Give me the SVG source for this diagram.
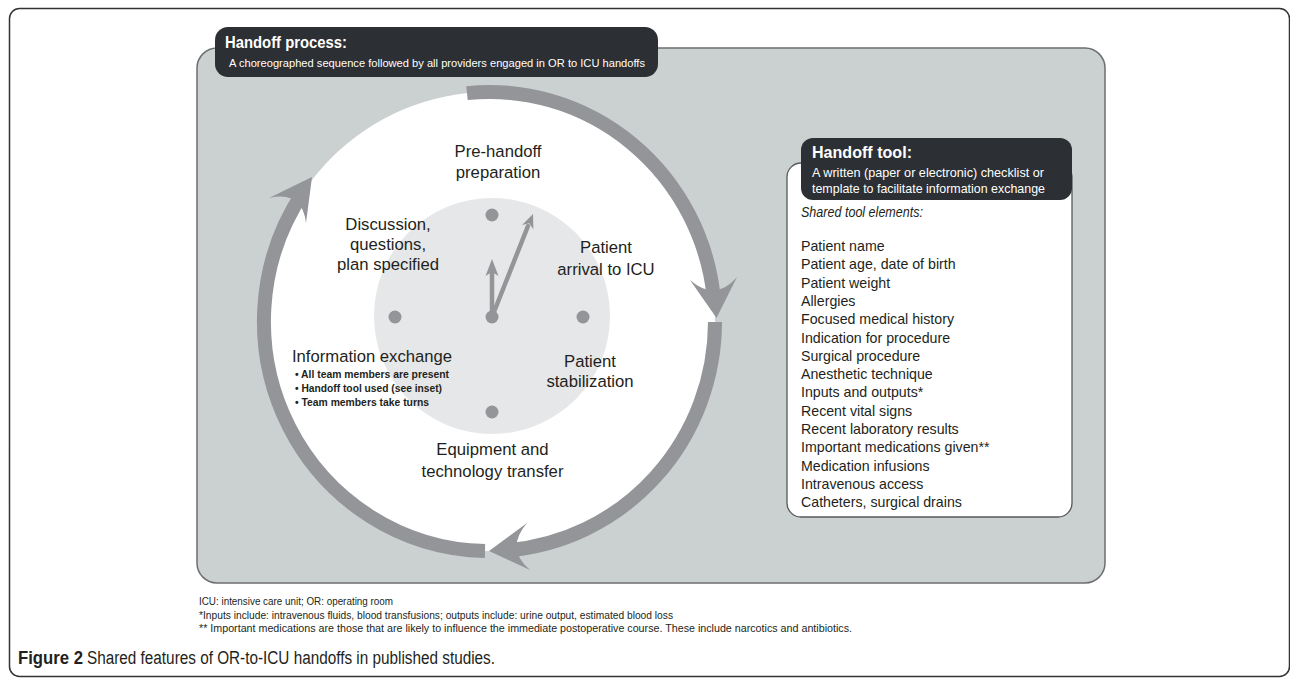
<svg xmlns="http://www.w3.org/2000/svg" width="1290" height="679" viewBox="0 0 1290 679">
<style>
.t{font-family:"Liberation Sans",Arial,sans-serif;fill:#231f20}
.w{font-family:"Liberation Sans",Arial,sans-serif;fill:#ffffff}
.lbl{font-size:16.7px;text-anchor:middle}
.li{font-size:14.2px}
.bul{font-size:10.8px;font-weight:bold}
.fn{font-size:10px}
.ring{fill:none;stroke:#939598;stroke-width:14;stroke-linecap:butt}
.head{fill:#939598}
.dot{fill:#939598}
.hand{stroke:#939598;stroke-width:4.5;stroke-linecap:round;fill:none}
</style>
<rect x="0" y="0" width="1290" height="679" fill="#ffffff"/>
<rect x="9.5" y="8.5" width="1280" height="668" rx="10" fill="none" stroke="#333333" stroke-width="1.5"/>

<g id="process-panel">
<rect x="197" y="48" width="908" height="535" rx="20" fill="#cbd0d0" stroke="#6d6e70" stroke-width="1.5"/>
<rect x="215" y="27" width="443" height="50" rx="13" fill="#2c2f33"/>
<text class="w" x="225" y="48" font-size="16px" font-weight="bold" textLength="122" lengthAdjust="spacingAndGlyphs">Handoff process:</text>
<text class="w" x="229" y="67" font-size="11.3px" textLength="416" lengthAdjust="spacingAndGlyphs">A choreographed sequence followed by all providers engaged in OR to ICU handoffs</text>
</g>

<g id="cycle-disk">
<ellipse cx="489.5" cy="321.5" rx="225.5" ry="229.5" fill="#ffffff"/>
<circle cx="492" cy="316" r="118" fill="#e6e7e8"/>
</g>

<g id="connectors">
<path class="ring" d="M467 93.1 A225.5 229.5 0 0 1 713.7 297"/>
<path class="head" d="M716.5 318 L737 277 Q715.6 302.2 690 280 Z"/>
<path class="ring" d="M715 322 A225.5 229.5 0 0 1 508 550.2"/>
<path class="head" d="M489 551 L530 570 Q504.8 549.2 527 523 Z"/>
<path class="ring" d="M485 551 A225.5 229.5 0 0 1 303.3 192"/>
<path class="head" d="M312 177 L269 198 Q302.2 190.4 306 223 Z"/>
</g>

<g id="clock">
<circle class="dot" cx="492" cy="215" r="6.5"/>
<circle class="dot" cx="395" cy="317" r="6.5"/>
<circle class="dot" cx="583" cy="317" r="6.5"/>
<circle class="dot" cx="492" cy="412" r="6.5"/>
<circle class="dot" cx="492" cy="317" r="6.5"/>
<line class="hand" x1="492" y1="317" x2="492" y2="272"/>
<path class="head" d="M492 259 L498.5 276 L492 272 L485.5 276 Z"/>
<line class="hand" x1="492" y1="317" x2="528" y2="226"/>
<path class="head" d="M533 214 L533.4 229.5 L529.3 223.3 L522 225 Z"/>
</g>

<g id="node-prehandoff">
<text class="t lbl" x="498" y="157">Pre-handoff</text>
<text class="t lbl" x="498" y="178">preparation</text>
</g>
<g id="node-arrival">
<text class="t lbl" x="606" y="253">Patient</text>
<text class="t lbl" x="606" y="275">arrival to ICU</text>
</g>
<g id="node-stabilization">
<text class="t lbl" x="590" y="367">Patient</text>
<text class="t lbl" x="590" y="387">stabilization</text>
</g>
<g id="node-equipment">
<text class="t lbl" x="492.5" y="455">Equipment and</text>
<text class="t lbl" x="492.5" y="477">technology transfer</text>
</g>
<g id="node-information">
<text class="t" x="292" y="362" font-size="16.7px" textLength="160" lengthAdjust="spacingAndGlyphs">Information exchange</text>
<text class="t bul" x="295" y="378" textLength="154" lengthAdjust="spacingAndGlyphs">• All team members are present</text>
<text class="t bul" x="295" y="392" textLength="147" lengthAdjust="spacingAndGlyphs">• Handoff tool used (see inset)</text>
<text class="t bul" x="295" y="406" textLength="134" lengthAdjust="spacingAndGlyphs">• Team members take turns</text>
</g>
<g id="node-discussion">
<text class="t lbl" x="388" y="230">Discussion,</text>
<text class="t lbl" x="388" y="250">questions,</text>
<text class="t lbl" x="388" y="270">plan specified</text>
</g>

<g id="handoff-tool">
<rect x="787" y="163" width="285" height="354" rx="14" fill="#ffffff" stroke="#58595b" stroke-width="1.3"/>
<rect x="801" y="138" width="271" height="62" rx="12" fill="#2c2f33"/>
<text class="w" x="812" y="158" font-size="16.5px" font-weight="bold" textLength="100" lengthAdjust="spacingAndGlyphs">Handoff tool:</text>
<text class="w" x="812" y="177" font-size="12.6px" textLength="232" lengthAdjust="spacingAndGlyphs">A written (paper or electronic) checklist or</text>
<text class="w" x="812" y="193" font-size="12.6px" textLength="233" lengthAdjust="spacingAndGlyphs">template to facilitate information exchange</text>
<text class="t" x="801" y="217" font-size="14px" font-style="italic" textLength="122" lengthAdjust="spacingAndGlyphs">Shared tool elements:</text>
<text class="t li" x="801" y="251">Patient name</text>
<text class="t li" x="801" y="269.3">Patient age, date of birth</text>
<text class="t li" x="801" y="287.6">Patient weight</text>
<text class="t li" x="801" y="305.9">Allergies</text>
<text class="t li" x="801" y="324.2">Focused medical history</text>
<text class="t li" x="801" y="342.5">Indication for procedure</text>
<text class="t li" x="801" y="360.8">Surgical procedure</text>
<text class="t li" x="801" y="379.1">Anesthetic technique</text>
<text class="t li" x="801" y="397.4">Inputs and outputs*</text>
<text class="t li" x="801" y="415.7">Recent vital signs</text>
<text class="t li" x="801" y="434">Recent laboratory results</text>
<text class="t li" x="801" y="452.3">Important medications given**</text>
<text class="t li" x="801" y="470.6">Medication infusions</text>
<text class="t li" x="801" y="488.9">Intravenous access</text>
<text class="t li" x="801" y="507.2">Catheters, surgical drains</text>
</g>

<g id="footnotes">
<text class="t fn" x="199" y="605" textLength="194" lengthAdjust="spacingAndGlyphs">ICU: intensive care unit; OR: operating room</text>
<text class="t fn" x="199" y="618.5" textLength="474" lengthAdjust="spacingAndGlyphs">*Inputs include: intravenous fluids, blood transfusions; outputs include: urine output, estimated blood loss</text>
<text class="t fn" x="199" y="632" textLength="653" lengthAdjust="spacingAndGlyphs">** Important medications are those that are likely to influence the immediate postoperative course. These include narcotics and antibiotics.</text>
</g>

<g id="caption">
<text class="t" x="18" y="664" font-size="18px" font-weight="bold" textLength="65" lengthAdjust="spacingAndGlyphs">Figure 2</text>
<text class="t" x="87" y="664" font-size="18px" textLength="408" lengthAdjust="spacingAndGlyphs">Shared features of OR-to-ICU handoffs in published studies.</text>
</g>
</svg>
